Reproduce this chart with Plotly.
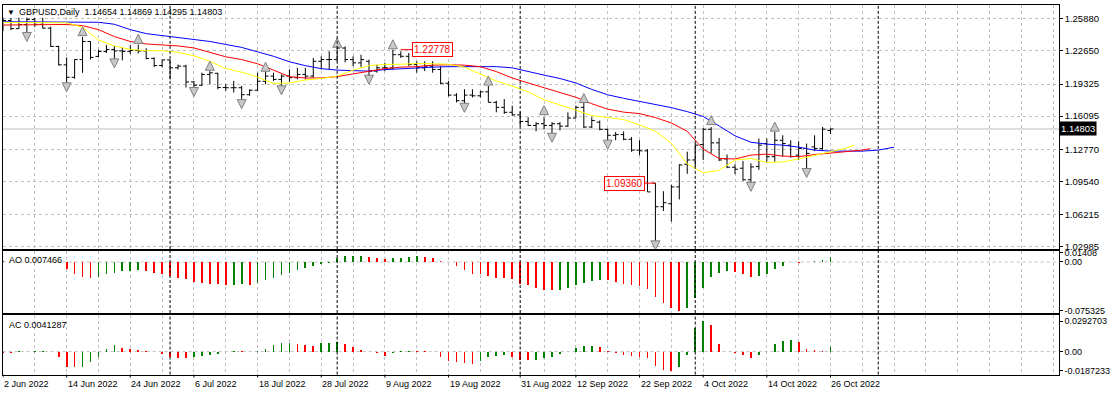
import plotly.graph_objects as go

# ---------------- data ----------------
symbol = "GBPUSD"
timeframe = "Daily"

opens = [1.2486, 1.2571, 1.2489, 1.2530, 1.2582, 1.2532, 1.2494, 1.2310, 1.2125, 1.2000,
         1.2178, 1.2360, 1.2210, 1.2260, 1.2280, 1.2265, 1.2260, 1.2270, 1.2265, 1.2190,
         1.2118, 1.2175, 1.2095, 1.2112, 1.1953, 1.1920, 1.2029, 1.2040, 1.1897, 1.1895,
         1.1895, 1.1825, 1.1870, 1.1960, 1.2012, 1.1979, 1.2012, 1.1996, 1.2029, 1.2012,
         1.2161, 1.2178, 1.2178, 1.2294, 1.2178, 1.2145, 1.2161, 1.2062, 1.2095, 1.2095,
         1.2227, 1.2211, 1.2128, 1.2095, 1.2112, 1.2079, 1.1940, 1.1821, 1.1764, 1.1821,
         1.1814, 1.1854, 1.1748, 1.1698, 1.1648, 1.1622, 1.1556, 1.1516, 1.1533, 1.1516,
         1.1533, 1.1509, 1.1590, 1.1698, 1.1500, 1.1549, 1.1477, 1.1417, 1.1424, 1.1377,
         1.1268, 1.1261, 1.0936, 1.0699, 1.0729, 1.0898, 1.1126, 1.1169, 1.1324, 1.1477,
         1.1341, 1.1179, 1.1096, 1.1086, 1.0970, 1.1103, 1.1334, 1.1202, 1.1367, 1.1318,
         1.1218, 1.1285, 1.1300, 1.1285, 1.14654]
highs = [1.2599, 1.2595, 1.2599, 1.2599, 1.2596, 1.2597, 1.2509, 1.2317, 1.2200, 1.2180,
         1.2406, 1.2360, 1.2277, 1.2326, 1.2315, 1.2300, 1.2323, 1.2330, 1.2292, 1.2200,
         1.2178, 1.2180, 1.2128, 1.2125, 1.1963, 1.2046, 1.2062, 1.2046, 1.1930, 1.1963,
         1.1913, 1.1880, 1.2046, 1.2062, 1.2046, 1.2029, 1.2079, 1.2095, 1.2095, 1.2194,
         1.2211, 1.2261, 1.2327, 1.2310, 1.2211, 1.2227, 1.2178, 1.2128, 1.2145, 1.22778,
         1.2261, 1.2244, 1.2161, 1.2161, 1.2161, 1.2112, 1.1963, 1.1840, 1.1880, 1.1880,
         1.1864, 1.1913, 1.1764, 1.1781, 1.1715, 1.1655, 1.1599, 1.1549, 1.1599, 1.1549,
         1.1549, 1.1648, 1.1715, 1.1741, 1.1599, 1.1566, 1.1483, 1.1450, 1.1457, 1.1400,
         1.1367, 1.1278, 1.0936, 1.0855, 1.0921, 1.1126, 1.1252, 1.1334, 1.1490, 1.1500,
         1.1390, 1.1225, 1.1126, 1.1159, 1.1136, 1.1384, 1.1384, 1.1450, 1.1417, 1.1367,
         1.1357, 1.1334, 1.1417, 1.1500, 1.14869]
lows = [1.2466, 1.2474, 1.2488, 1.2426, 1.2506, 1.2490, 1.2305, 1.2118, 1.1934, 1.1985,
        1.2045, 1.2178, 1.2200, 1.2244, 1.2160, 1.2170, 1.2235, 1.2240, 1.2180, 1.2102,
        1.2102, 1.1979, 1.2079, 1.1897, 1.1880, 1.1913, 1.1930, 1.1880, 1.1864, 1.1847,
        1.1764, 1.1814, 1.1864, 1.1930, 1.1963, 1.1897, 1.1953, 1.1979, 1.1979, 1.1996,
        1.2079, 1.2079, 1.2160, 1.2150, 1.2112, 1.2102, 1.2012, 1.2046, 1.2062, 1.2079,
        1.2194, 1.2112, 1.2046, 1.2062, 1.2046, 1.1930, 1.1807, 1.1748, 1.1725, 1.1797,
        1.1797, 1.1748, 1.1648, 1.1632, 1.1615, 1.1509, 1.1509, 1.1457, 1.1477, 1.1410,
        1.1467, 1.1500, 1.1590, 1.1490, 1.1490, 1.1467, 1.1356, 1.1367, 1.1367, 1.1252,
        1.1218, 1.0848, 1.0325, 1.0656, 1.0550, 1.0772, 1.1030, 1.1100, 1.1169, 1.1235,
        1.1159, 1.1086, 1.1027, 1.0961, 1.0921, 1.1070, 1.1152, 1.1152, 1.1202, 1.1192,
        1.1169, 1.1070, 1.1258, 1.1270, 1.14295]
closes = [1.2571, 1.2489, 1.2530, 1.2582, 1.2532, 1.2494, 1.2310, 1.2125, 1.2000, 1.2178,
          1.2360, 1.2200, 1.2260, 1.2280, 1.2265, 1.2260, 1.2270, 1.2265, 1.2190, 1.2118,
          1.2175, 1.2095, 1.2112, 1.1953, 1.1920, 1.2029, 1.2045, 1.1897, 1.1895, 1.1895,
          1.1825, 1.1870, 1.1960, 1.2012, 1.1979, 1.2012, 1.1996, 1.2029, 1.2012, 1.2161,
          1.2178, 1.2178, 1.2294, 1.2178, 1.2145, 1.2178, 1.2062, 1.2095, 1.2095, 1.2227,
          1.2211, 1.2128, 1.2095, 1.2112, 1.2079, 1.1940, 1.1821, 1.1764, 1.1821, 1.1814,
          1.1854, 1.1748, 1.1698, 1.1648, 1.1622, 1.1556, 1.1516, 1.1533, 1.1516, 1.1533,
          1.1509, 1.1590, 1.1698, 1.1500, 1.1566, 1.1477, 1.1417, 1.1424, 1.1377, 1.1268,
          1.1261, 1.0848, 1.0699, 1.0739, 1.0898, 1.1119, 1.1169, 1.1318, 1.1477, 1.1341,
          1.1169, 1.1096, 1.1076, 1.0970, 1.1099, 1.1318, 1.1202, 1.1367, 1.1334, 1.1202,
          1.1285, 1.1235, 1.1285, 1.1478, 1.14803]
bar_idx = list(range(len(closes)))

# Alligator lines (jaw / teeth / lips), shifted into the future
jaw_idx = list(range(0, 113, 2))
jaw = [1.2558, 1.2558, 1.2558, 1.2558, 1.2558, 1.2558, 1.2553, 1.2533, 1.2479, 1.2439,
       1.2419, 1.2399, 1.2380, 1.2360, 1.2330, 1.2300, 1.2256, 1.2211, 1.2156, 1.2117,
       1.2087, 1.2072, 1.2067, 1.2062, 1.2077, 1.2087, 1.2095, 1.2102, 1.2107, 1.2107,
       1.2112, 1.2107, 1.2095, 1.2062, 1.2022, 1.1988, 1.1943, 1.1878, 1.1824, 1.1789,
       1.1759, 1.1730, 1.1695, 1.1655, 1.1606, 1.1511, 1.1412, 1.1347, 1.1328, 1.1318,
       1.1298, 1.1268, 1.1258, 1.1258, 1.1258, 1.1268, 1.1298]
teeth_idx = list(range(0, 109, 2)) + [109]
teeth = [1.2525, 1.2528, 1.2531, 1.2531, 1.2531, 1.2519, 1.2479, 1.2409, 1.2360, 1.2335,
         1.2325, 1.2315, 1.2295, 1.2251, 1.2206, 1.2178, 1.2136, 1.2072, 1.2007, 1.1993,
         1.1993, 1.2007, 1.2032, 1.2062, 1.2087, 1.2102, 1.2107, 1.2122, 1.2126, 1.2122,
         1.2107, 1.2057, 1.1993, 1.1943, 1.1893, 1.1849, 1.1799, 1.1734, 1.1680, 1.1650,
         1.1635, 1.1595, 1.1541, 1.1457, 1.1278, 1.1184, 1.1179, 1.1218, 1.1228, 1.1208,
         1.1203, 1.1223, 1.1238, 1.1248, 1.1268, 1.1283]
lips_idx = list(range(0, 107, 2)) + [107]
lips = [1.2551, 1.2551, 1.2551, 1.2551, 1.2548, 1.2504, 1.2375, 1.2315, 1.2280, 1.2267,
        1.2267, 1.2251, 1.2216, 1.2160, 1.2087, 1.2052, 1.2002, 1.1938, 1.1943, 1.1973,
        1.1988, 1.2012, 1.2072, 1.2117, 1.2129, 1.2131, 1.2138, 1.2136, 1.2131, 1.2102,
        1.2032, 1.1963, 1.1913, 1.1854, 1.1774, 1.1725, 1.1670, 1.1615, 1.1599, 1.1576,
        1.1521, 1.1457, 1.1337, 1.1129, 1.1040, 1.1065, 1.1169, 1.1184, 1.1144, 1.1149,
        1.1179, 1.1213, 1.1248, 1.1288, 1.1318]

# Fractals (arrow positions)
frac_up_idx = [10, 17, 26, 33, 42, 49, 61, 68, 73, 89, 97]
frac_up_price = [1.2509, 1.2432, 1.2161, 1.2151, 1.2392, 1.2377, 1.2012, 1.1715, 1.1837, 1.1615, 1.1549]
frac_dn_idx = [3, 8, 14, 24, 30, 35, 46, 58, 69, 76, 82, 94, 101]
frac_dn_price = [1.2360, 1.1854, 1.2095, 1.1807, 1.1685, 1.1824, 1.1930, 1.1648, 1.1347, 1.1278,
                 1.0266, 1.0854, 1.0993]

# Awesome Oscillator and Accelerator Oscillator
ao = [0.0015, None, None, None, None, None, None, None,
      -0.0102, -0.0178, -0.0234, -0.0249, -0.0234, -0.0188, -0.0163, -0.0137, -0.0132, -0.0127,
      -0.0142, -0.0168, -0.0178, -0.0213, -0.0244, -0.0269, -0.0305, -0.0330, -0.0335, -0.0340,
      -0.0356, -0.0351, -0.0346, -0.0361, -0.0330, -0.0279, -0.0244, -0.0208, -0.0168, -0.0127,
      -0.0097, -0.0066, -0.0036, -0.0010, 0.0066, 0.0086, 0.0097, 0.0100, 0.0081, 0.0066,
      0.0046, 0.0056, 0.0066, 0.0081, 0.0091, 0.0081, 0.0066, 0.0015, -0.0005, -0.0066,
      -0.0117, -0.0178, -0.0193, -0.0224, -0.0244, -0.0254, -0.0269, -0.0346, -0.0361, -0.0396,
      -0.0432, -0.0432, -0.0430, -0.0396, -0.0356, -0.0330, -0.0295, -0.0279, -0.0282, -0.0315,
      -0.0346, -0.0361, -0.0371, -0.0417, -0.0534, -0.0635, -0.0711, -0.075325, -0.0711, -0.0549,
      -0.0396, -0.0234, -0.0163, -0.0142, -0.0147, -0.0193, -0.0234, -0.0218, -0.0188, -0.0112,
      -0.0056, -0.0005, -0.0008, 0.0005, 0.0010, 0.0025, 0.007466]
ac = [-0.0010, -0.0012, 0.0002, -0.0003, 0.0001, 0.0008, -0.0002, -0.0048, -0.0146, -0.0152,
      -0.0150, -0.0098, -0.0048, 0.0022, 0.0060, 0.0038, 0.0022, 0.0013, 0.0002, -0.0003,
      -0.0025, -0.0057, -0.0060, -0.0067, -0.0057, -0.0041, -0.0032, -0.0025, -0.0005, 0.0003,
      0.0001, -0.0001, 0.0006, 0.0029, 0.0060, 0.0079, 0.0086, 0.0076, 0.0060, 0.0058,
      0.0079, 0.0080, 0.0095, 0.0070, 0.0048, 0.0016, 0.0000, -0.0016, -0.0041, -0.0016,
      0.0002, 0.0010, 0.0009, 0.0003, -0.0002, -0.0048, -0.0089, -0.0098, -0.0111, -0.0121,
      -0.0092, -0.0057, -0.0041, -0.0029, -0.0048, -0.0083, -0.0086, -0.0083, -0.0067, -0.0057,
      -0.0025, -0.0005, 0.0035, 0.0054, 0.0056, 0.0048, 0.0006, -0.0010, -0.0032, -0.0044,
      -0.0048, -0.0067, -0.0143, -0.0175, -0.0187233, -0.0149, -0.0035, 0.0229, 0.0292703, 0.0260,
      0.0070, -0.0003, -0.0013, -0.0029, -0.0063, -0.0035, -0.0003, 0.0070, 0.0102, 0.0114,
      0.0092, 0.0029, 0.0013, 0.0010, 0.0041287]

# Axis ticks / labels
price_ticks = [1.25880, 1.22650, 1.19325, 1.16095, 1.12770, 1.09540, 1.06215, 1.02985]
ao_ticks = [0.01408, 0.0, -0.075325]
ao_tick_text = ["0.01408", "0.00", "-0.075325"]
ac_ticks = [0.0292703, 0.0, -0.0187233]
ac_tick_text = ["0.0292703", "0.00", "-0.0187233"]
date_label_idx = [0, 8, 16, 24, 32, 40, 48, 56, 65, 72, 80, 88, 96, 104]
date_labels = ["2 Jun 2022", "14 Jun 2022", "24 Jun 2022", "6 Jul 2022", "18 Jul 2022",
               "28 Jul 2022", "9 Aug 2022", "19 Aug 2022", "31 Aug 2022", "12 Sep 2022",
               "22 Sep 2022", "4 Oct 2022", "14 Oct 2022", "26 Oct 2022"]
month_start_idx = [21, 42, 65, 87, 110]
grid_idx = list(range(4, 133, 4))
price_labels = [(49, 1.22778, "right"), (82, 1.09360, "left")]

# ---------------- layout helpers ----------------
W, H = 1110, 398
FONT = "Liberation Sans"
GRID = "#C0C0C0"
UP_COL, DN_COL = "#008000", "#FF0000"
BAR_PX, FIRST_PX = 8.0, 3.0
LEFT_PX, RIGHT_PX = 2.7, 1064.5


def px_x(x):
    return x / W


def px_y(y):
    return 1 - y / H


x_range = [(LEFT_PX - FIRST_PX) / BAR_PX, (RIGHT_PX - FIRST_PX) / BAR_PX]
x_dom = [px_x(LEFT_PX), px_x(RIGHT_PX)]

# main price scale: 1.25880 sits at pixel row 17, 1007.6 px per 1.0
ref_price, ref_px, ppu = 1.25880, 17.0, 1007.6
main_top_px, main_bot_px = 2.7, 250.0
y_range = [ref_price - (main_bot_px - ref_px) / ppu, ref_price + (ref_px - main_top_px) / ppu]

ao_top_px, ao_bot_px, ao_zero_px, ao_ppu = 251.7, 315.0, 263.3, 656.0
ao_range = [-(ao_bot_px - ao_zero_px) / ao_ppu, (ao_zero_px - ao_top_px) / ao_ppu]
ac_top_px, ac_bot_px, ac_zero_px, ac_ppu = 317.0, 377.3, 354.0, 1050.0
ac_range = [-(ac_bot_px - ac_zero_px) / ac_ppu, (ac_zero_px - ac_top_px) / ac_ppu]


def bar_colors(values, first_color):
    cols, prev = [], None
    for v in values:
        if v is None:
            cols.append("rgba(0,0,0,0)")
            continue
        cols.append(first_color if prev is None else (UP_COL if v > prev else DN_COL))
        prev = v
    return cols


fig = go.Figure()

fig.add_trace(go.Ohlc(
    x=bar_idx, open=opens, high=highs, low=lows, close=closes,
    increasing=dict(line=dict(color="black", width=1)),
    decreasing=dict(line=dict(color="black", width=1)),
    tickwidth=0.38, xaxis="x", yaxis="y", hoverinfo="skip", showlegend=False))

for xs, ys, col in [(jaw_idx, jaw, "#0000FF"), (teeth_idx, teeth, "#FF0000"), (lips_idx, lips, "#FFFF00")]:
    fig.add_trace(go.Scatter(x=xs, y=ys, mode="lines", line=dict(color=col, width=1),
                             xaxis="x", yaxis="y", hoverinfo="skip", showlegend=False))

fig.add_trace(go.Scatter(x=frac_up_idx, y=frac_up_price, mode="markers",
                         marker=dict(symbol="arrow-up", size=9, color="#C8C8C8",
                                     line=dict(color="#808080", width=1)),
                         xaxis="x", yaxis="y", hoverinfo="skip", showlegend=False))
fig.add_trace(go.Scatter(x=frac_dn_idx, y=frac_dn_price, mode="markers",
                         marker=dict(symbol="arrow-down", size=9, color="#C8C8C8",
                                     line=dict(color="#808080", width=1)),
                         xaxis="x", yaxis="y", hoverinfo="skip", showlegend=False))

fig.add_trace(go.Bar(x=bar_idx, y=ao, width=0.22, marker=dict(color=bar_colors(ao, UP_COL), line=dict(width=0)),
                     xaxis="x2", yaxis="y2", hoverinfo="skip", showlegend=False))
fig.add_trace(go.Bar(x=bar_idx, y=ac, width=0.22, marker=dict(color=bar_colors(ac, DN_COL), line=dict(width=0)),
                     xaxis="x3", yaxis="y3", hoverinfo="skip", showlegend=False))

axis_common = dict(showline=True, mirror=True, linecolor="black", linewidth=1, zeroline=False)
grid_x = dict(tickmode="array", tickvals=grid_idx, showticklabels=False, ticks="",
              showgrid=True, gridcolor=GRID, griddash="3px,3px", gridwidth=1)

fig.update_layout(
    width=W, height=H, margin=dict(l=0, r=0, t=0, b=0), autosize=False,
    paper_bgcolor="white", plot_bgcolor="white",
    font=dict(family=FONT, size=9, color="black"),
    bargap=0,
    xaxis=dict(domain=x_dom, range=x_range, anchor="y", rangeslider=dict(visible=False), **grid_x, **axis_common),
    yaxis=dict(domain=[px_y(main_bot_px), px_y(main_top_px)], range=y_range, anchor="x", side="right",
               tickmode="array", tickvals=price_ticks, ticktext=[f"{v:.5f}" for v in price_ticks],
               ticks="outside", ticklen=3, tickcolor="black", tickfont=dict(family=FONT, size=9.5),
               showgrid=True, gridcolor=GRID, griddash="3px,3px", **axis_common),
    xaxis2=dict(domain=x_dom, range=x_range, anchor="y2", **grid_x, **axis_common),
    yaxis2=dict(domain=[px_y(ao_bot_px), px_y(ao_top_px)], range=ao_range, anchor="x2", side="right",
                tickmode="array", tickvals=ao_ticks, ticktext=ao_tick_text, ticks="outside", ticklen=3,
                tickcolor="black", tickfont=dict(family=FONT, size=9), showgrid=False, **axis_common),
    xaxis3=dict(domain=x_dom, range=x_range, anchor="y3", **grid_x, **axis_common),
    yaxis3=dict(domain=[px_y(ac_bot_px), px_y(ac_top_px)], range=ac_range, anchor="x3", side="right",
                tickmode="array", tickvals=ac_ticks, ticktext=ac_tick_text, ticks="outside", ticklen=3,
                tickcolor="black", tickfont=dict(family=FONT, size=9), showgrid=False, **axis_common),
)

shapes = []
for xa, ya in [("x", "y"), ("x2", "y2"), ("x3", "y3")]:
    for m in month_start_idx:
        shapes.append(dict(type="line", xref=xa, yref=f"{ya} domain", x0=m, x1=m, y0=0, y1=1,
                           line=dict(color="black", width=1, dash="3px,2px"), layer="above"))
for xa, ya in [("x2", "y2"), ("x3", "y3")]:
    shapes.append(dict(type="line", xref=f"{xa} domain", yref=ya, x0=0, x1=1, y0=0, y1=0,
                       line=dict(color=GRID, width=1, dash="3px,3px"), layer="below"))
shapes.append(dict(type="line", xref="x domain", yref="y", x0=0, x1=1, y0=closes[-1], y1=closes[-1],
                   line=dict(color=GRID, width=1), layer="below"))
# small tick marks under the bottom panel at each date label
for li in date_label_idx:
    shapes.append(dict(type="line", xref="x3", yref="paper", x0=li, x1=li,
                       y0=px_y(ac_bot_px + 3), y1=px_y(ac_bot_px), line=dict(color="black", width=1)))
fig.update_layout(shapes=shapes)

ann = []
ann.append(dict(xref="paper", yref="paper", x=px_x(5), y=px_y(10.5), xanchor="left", yanchor="middle",
                text="\u25bc", showarrow=False, font=dict(family=FONT, size=8, color="black")))
ann.append(dict(xref="paper", yref="paper", x=px_x(17), y=px_y(10.5), xanchor="left", yanchor="middle",
                text=f"{symbol},{timeframe}\u00a0\u00a0{opens[-1]:.5f} {highs[-1]:.5f} {lows[-1]:.5f} {closes[-1]:.5f}",
                showarrow=False, font=dict(family=FONT, size=9, color="black")))
ann.append(dict(xref="paper", yref="paper", x=px_x(7), y=px_y(261.5), xanchor="left", yanchor="middle",
                text=f"AO {ao[-1]:.6f}", showarrow=False, font=dict(family=FONT, size=9, color="black")))
ann.append(dict(xref="paper", yref="paper", x=px_x(7), y=px_y(327.5), xanchor="left", yanchor="middle",
                text=f"AC {ac[-1]:.7f}", showarrow=False, font=dict(family=FONT, size=9, color="black")))
for bi, price, side in price_labels:
    ann.append(dict(xref="x", yref="y", x=bi, y=price, text=f"{price:.5f}", showarrow=True,
                    arrowhead=0, arrowwidth=1, arrowcolor="#FF0000",
                    ax=40 if side == "right" else -31, ay=0, standoff=8 if side == "right" else 0,
                    bordercolor="#FF0000", borderwidth=1, borderpad=1, bgcolor="white",
                    font=dict(family=FONT, size=10, color="#FF0000")))
ann.append(dict(xref="paper", yref="y", x=px_x(RIGHT_PX + 0.5), y=closes[-1], xanchor="left", yanchor="middle",
                text=f"{closes[-1]:.5f}", showarrow=False, bgcolor="black", borderpad=1,
                font=dict(family=FONT, size=9.5, color="white")))
# date labels of the time axis, left-aligned at their bars
for li, lab in zip(date_label_idx, date_labels):
    ann.append(dict(xref="x3", yref="paper", x=li, y=px_y(386.5), xanchor="left", yanchor="middle",
                    xshift=-1, text=lab, showarrow=False, font=dict(family=FONT, size=9, color="black")))
fig.update_layout(annotations=ann)

fig.write_html("out.html", config={"displayModeBar": False, "staticPlot": True},
               post_script="document.body.style.margin='0';document.body.style.overflow='hidden';")
